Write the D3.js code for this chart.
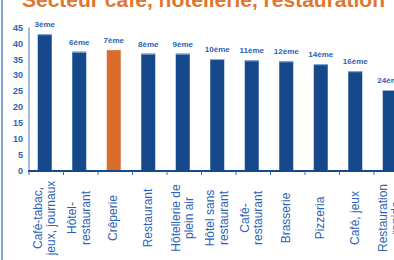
<!DOCTYPE html>
<html>
<head>
<meta charset="utf-8">
<script src="https://cdn.jsdelivr.net/npm/d3@7"></script>
<style>
  body { margin: 0; background: #fff; }
  svg { display: block; font-family: "Liberation Sans", Arial, sans-serif; }
</style>
</head>
<body>
<svg id="chart"></svg>
<script>
// data
const categories = [
    ["Café-tabac,", "jeux, journaux"],
    ["Hôtel-", "restaurant"],
    ["Crêperie"],
    ["Restaurant"],
    ["Hôtellerie de", "plein air"],
    ["Hôtel sans", "restaurant"],
    ["Café-", "restaurant"],
    ["Brasserie"],
    ["Pizzeria"],
    ["Café, jeux"],
    ["Restauration", "rapide"]
];
const ranks = ["3ème", "6ème", "7ème", "8ème", "9ème", "10ème", "11ème", "12ème", "14ème", "16ème", "24ème"];
const values = [42.9, 37.4, 37.9, 36.8, 36.8, 35.1, 34.7, 34.4, 33.5, 31.3, 25.4];
const highlighted = "7ème";
const yTicks = [0, 5, 10, 15, 20, 25, 30, 35, 40, 45];

const width = 394;
const height = 260;
const blue = "#16498b";
const textBlue = "#2d62b4";
const orange = "#d96d2e";

const svg = d3.select("#chart")
    .attr("width", width)
    .attr("height", height);

// left frame line
svg.append("line")
    .attr("x1", 2).attr("x2", 2)
    .attr("y1", 0).attr("y2", height)
    .attr("stroke", "#5a86c8")
    .attr("stroke-width", 1.5);

// title, cut by the top edge
svg.append("text")
    .attr("x", 22)
    .attr("y", 7)
    .attr("fill", "#e0762f")
    .style("font-size", "21px")
    .style("font-weight", "bold")
    .text("Secteur café, hôtellerie, restauration");

const xScale = d3.scaleBand()
    .domain(ranks)
    .range([29, 408.5]);

const yScale = d3.scaleLinear()
    .domain([0, 45])
    .range([171, 27.5]);

const barWidth = 14;

// y axis
svg.append("line")
    .attr("x1", 29).attr("x2", 29)
    .attr("y1", yScale(45)).attr("y2", yScale(0))
    .attr("stroke", "#4a74b4")
    .attr("stroke-width", 1);

svg.append("g")
    .selectAll("text")
    .data(yTicks)
    .enter()
    .append("text")
    .attr("x", 23)
    .attr("y", d => yScale(d))
    .attr("dy", "0.35em")
    .attr("text-anchor", "end")
    .attr("fill", textBlue)
    .style("font-size", "9px")
    .style("font-weight", "bold")
    .text(d => d);

// bars
const bars = svg.append("g")
    .selectAll("g")
    .data(ranks)
    .enter()
    .append("g");

bars.append("rect")
    .attr("x", d => xScale(d) + (xScale.bandwidth() - barWidth) / 2 - 1.5)
    .attr("y", (d, i) => yScale(values[i]))
    .attr("width", barWidth)
    .attr("height", (d, i) => yScale(0) - yScale(values[i]))
    .attr("fill", d => d === highlighted ? orange : blue);

// light edge on top of the blue bars
bars.filter(d => d !== highlighted)
    .append("rect")
    .attr("x", d => xScale(d) + (xScale.bandwidth() - barWidth) / 2 - 1.5)
    .attr("y", d => yScale(values[ranks.indexOf(d)]))
    .attr("width", barWidth)
    .attr("height", 1)
    .attr("fill", "#8fb0dc");

// rank labels
bars.append("text")
    .attr("x", d => xScale(d) + xScale.bandwidth() / 2 - 1.5)
    .attr("y", (d, i) => yScale(values[i]) - 7)
    .attr("text-anchor", "middle")
    .attr("fill", textBlue)
    .style("font-size", "8px")
    .style("font-weight", "bold")
    .text(d => d);

// x axis line and ticks
svg.append("line")
    .attr("x1", 28).attr("x2", width)
    .attr("y1", yScale(0)).attr("y2", yScale(0))
    .attr("stroke", blue)
    .attr("stroke-width", 2);

const bounds = ranks.map(d => xScale(d)).concat([xScale.range()[1]]);
svg.append("g")
    .selectAll("line")
    .data(bounds)
    .enter()
    .append("line")
    .attr("x1", d => d).attr("x2", d => d)
    .attr("y1", yScale(0)).attr("y2", yScale(0) + 4)
    .attr("stroke", "#3d66a8")
    .attr("stroke-width", 1);

// rotated category labels
const lineGap = 13.5;
const labels = svg.append("g")
    .selectAll("text")
    .data(categories)
    .enter()
    .append("text")
    .attr("transform", (d, i) => {
        const cx = xScale(ranks[i]) + xScale.bandwidth() / 2 - 2;
        return `translate(${cx}, 218) rotate(-90)`;
    })
    .attr("text-anchor", "middle")
    .attr("fill", textBlue)
    .style("font-size", "12px");

labels.selectAll("tspan")
    .data(d => d.map((t, j) => ({ t: t, j: j, n: d.length })))
    .enter()
    .append("tspan")
    .attr("x", 0)
    .attr("y", d => (d.j - (d.n - 1) / 2) * lineGap)
    .attr("dy", "0.35em")
    .text(d => d.t);
</script>
</body>
</html>
